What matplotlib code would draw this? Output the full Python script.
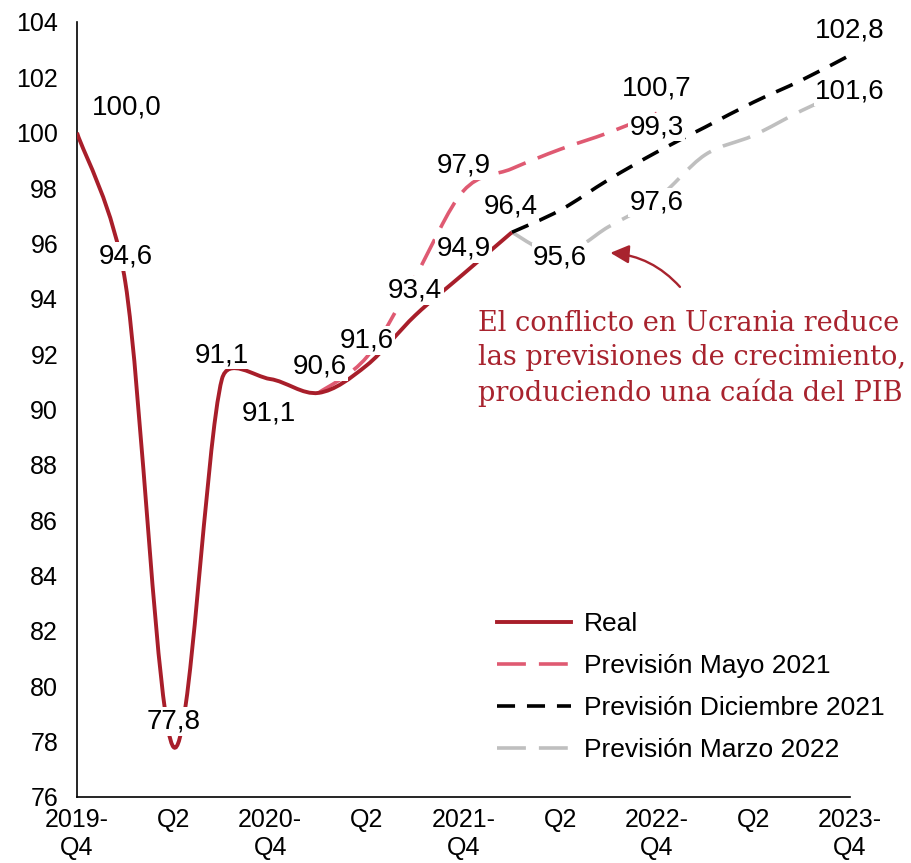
import numpy as np
import matplotlib.pyplot as plt
from matplotlib.path import Path
from matplotlib.patches import PathPatch
from matplotlib.lines import Line2D

plt.rcParams['font.family'] = ['Liberation Sans', 'DejaVu Sans']

# quarter index 0 = 2019-Q4 ... 16 = 2023-Q4
tick_pos = np.arange(0, 17, 2)
tick_labels = ["2019-\nQ4", "Q2", "2020-\nQ4", "Q2", "2021-\nQ4", "Q2", "2022-\nQ4", "Q2", "2023-\nQ4"]

real_x = np.arange(0, 10)
real = [100.0, 94.6, 77.8, 91.1, 91.1, 90.6, 91.6, 93.4, 94.9, 96.4]

may21_x = np.arange(5, 13)
may21 = [90.6, 91.9, 94.8, 97.9, 98.7, 99.4, 100.0, 100.7]

dec21_x = np.arange(9, 17)
dec21 = [96.4, 97.2, 98.3, 99.3, 100.2, 101.1, 101.9, 102.8]

mar22_x = np.arange(9, 17)
mar22 = [96.4, 95.6, 96.6, 97.6, 99.2, 99.9, 100.8, 101.6]

c_real = '#A81E2A'
c_may = '#DF5A72'
c_dec = '#000000'
c_mar = '#BFBFBF'

fig = plt.figure(figsize=(9.12, 8.63), dpi=100)
ax = fig.add_axes([77 / 912, 66 / 863, 773 / 912, 775 / 863])
ax.set_xlim(0, 16)
ax.set_ylim(76, 104)

# pixels per data unit, used to smooth the lines like a spreadsheet does
sx = 773 / 16
sy = 775 / 28


def smooth_path(xs, ys):
    P = np.column_stack([np.asarray(xs, float) * sx, np.asarray(ys, float) * sy])
    n = len(P)
    verts = [P[0]]
    codes = [Path.MOVETO]
    for i in range(n - 1):
        p0 = P[i - 1] if i > 0 else P[i]
        p3 = P[i + 2] if i + 2 < n else P[i + 1]
        seg = np.linalg.norm(P[i + 1] - P[i])
        t1 = (P[i + 1] - p0) / 6
        t2 = (p3 - P[i]) / 6
        if np.linalg.norm(t1) > seg / 2:
            t1 = t1 * (seg / 2) / np.linalg.norm(t1)
        if np.linalg.norm(t2) > seg / 2:
            t2 = t2 * (seg / 2) / np.linalg.norm(t2)
        verts += [P[i] + t1, P[i + 1] - t2, P[i + 1]]
        codes += [Path.CURVE4] * 3
    verts = np.array(verts)
    verts[:, 0] /= sx
    verts[:, 1] /= sy
    return Path(verts, codes)


long_dash = (0, (8, 3.6))
short_dash = (0, (5, 3.3))
lw_real = 2.8
lw_fc = 2.6

series = [
    (mar22_x, mar22, c_mar, long_dash, lw_fc),
    (dec21_x, dec21, c_dec, short_dash, lw_fc),
    (may21_x, may21, c_may, long_dash, lw_fc),
    (real_x, real, c_real, '-', lw_real),
]
for xs, ys, col, ls, lw in series:
    ax.add_patch(PathPatch(smooth_path(xs, ys), fill=False, edgecolor=col,
                           linestyle=ls, linewidth=lw, capstyle='butt', zorder=3))


def fmt(v):
    return f"{v:.1f}".replace('.', ',')


def label(x, v, dx, dy):
    ax.annotate(fmt(v), xy=(x, v), xytext=(dx, dy), textcoords='offset pixels',
                ha='center', va='baseline', fontsize=20, zorder=5,
                bbox=dict(boxstyle='square,pad=0.05', fc='white', ec='none'))


real_offsets = [(50, 18), (1, 19), (0, 19), (0, 17), (-1, -41),
                (1, 19), (0, 18), (0, 18), (0, 18), (-1, 19)]
for x, v, (dx, dy) in zip(real_x, real, real_offsets):
    label(x, v, dx, dy)

for i in (3, 7):
    label(may21_x[i], may21[i], 0, 18)
for i in (3, 7):
    label(dec21_x[i], dec21[i], 0, 18)
for i in (1, 3, 7):
    label(mar22_x[i], mar22[i], 0, -10)

# annotation
ax.text(0.519, 0.566, "El conflicto en Ucrania reduce\nlas previsiones de crecimiento,\nproduciendo una caída del PIB",
        transform=ax.transAxes, ha='left', va='center', fontsize=19.6,
        family='DejaVu Serif', color='#A8232E', linespacing=1.32, zorder=6)
ax.annotate("", xy=(11.04, 95.66), xytext=(12.48, 94.43),
            arrowprops=dict(arrowstyle='-|>', color='#A8232E', lw=1.7,
                            connectionstyle='arc3,rad=0.2', mutation_scale=28,
                            shrinkA=0, shrinkB=0), zorder=6)

# axes styling
ax.set_xticks(tick_pos)
ax.set_xticklabels(tick_labels)
ax.set_yticks(np.arange(76, 105, 2))
ax.tick_params(axis='x', length=0, pad=8, labelsize=18)
ax.tick_params(axis='y', length=0, pad=13.5, labelsize=18)
for s in ('top', 'right'):
    ax.spines[s].set_visible(False)
for s in ('left', 'bottom'):
    ax.spines[s].set_linewidth(1.2)
    ax.spines[s].set_color('black')

handles = [
    Line2D([], [], color=c_real, lw=lw_real),
    Line2D([], [], color=c_may, lw=lw_fc, linestyle=long_dash),
    Line2D([], [], color=c_dec, lw=lw_fc, linestyle=short_dash),
    Line2D([], [], color=c_mar, lw=lw_fc, linestyle=long_dash),
]
names = ["Real", "Previsión Mayo 2021", "Previsión Diciembre 2021", "Previsión Marzo 2022"]
ax.legend(handles, names, loc='upper left', bbox_to_anchor=(0.543, 0.239),
          frameon=False, fontsize=19, handlelength=2.8, handletextpad=0.5,
          labelspacing=0.69, borderpad=0, borderaxespad=0)

fig.savefig('out.png', dpi=100)
